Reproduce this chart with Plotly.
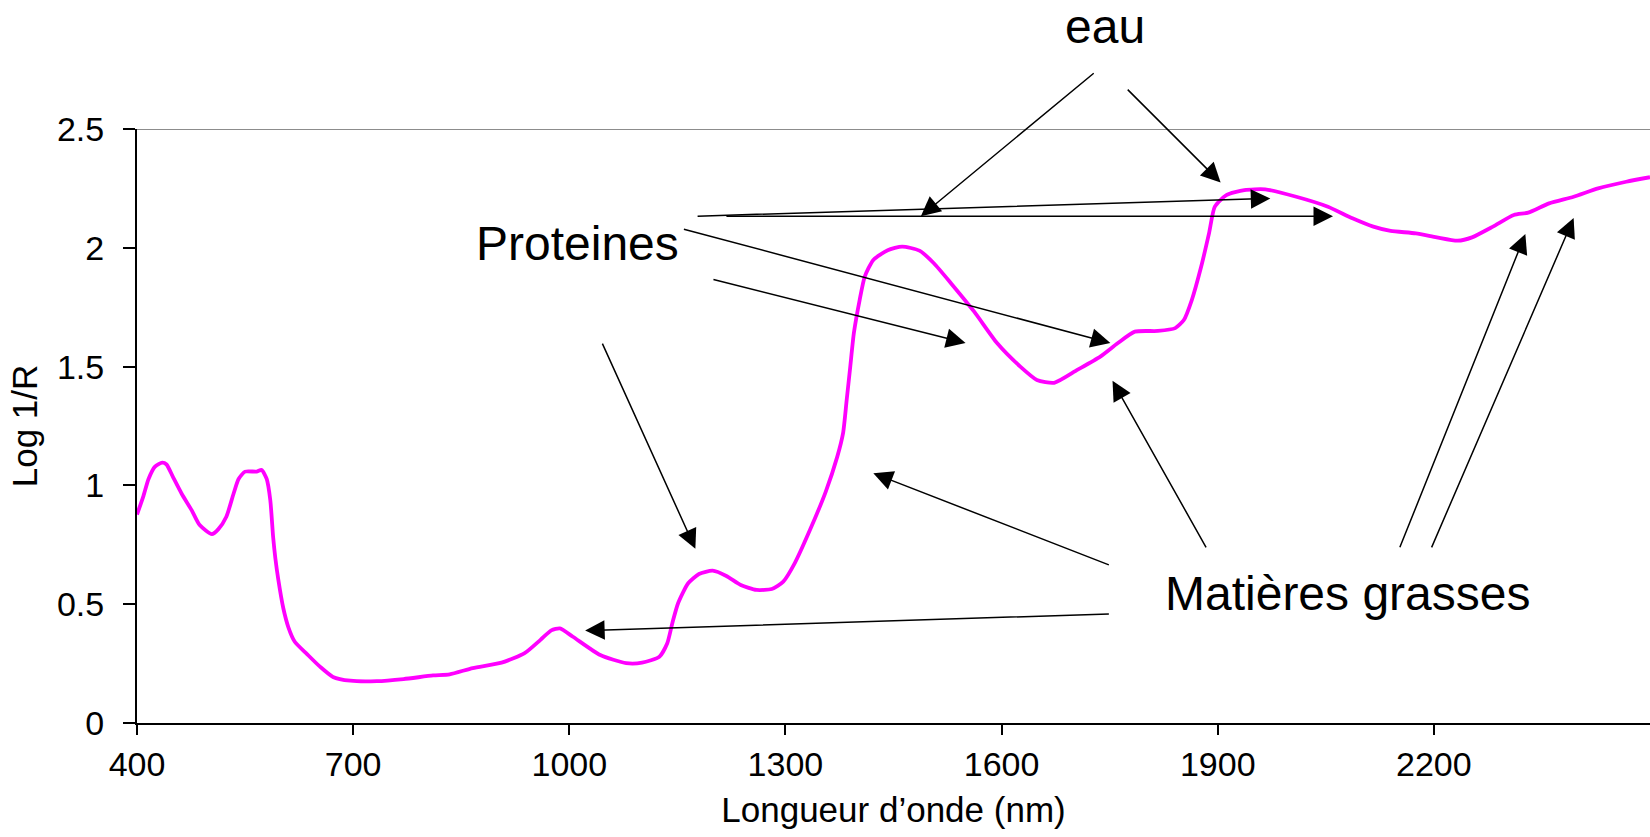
import plotly.graph_objects as go

# ---- data ----
wavelength_nm = [400, 409, 416, 425, 435, 441, 450, 462, 476, 487, 504, 513, 524, 534, 541, 550, 566,
                 573, 580, 585, 589, 592, 596, 603, 610, 619, 636, 654, 672, 696, 733, 770, 811, 834,
                 866, 906, 938, 960, 975, 987, 1005, 1043, 1079, 1101, 1125, 1136, 1143, 1151, 1165,
                 1180, 1199, 1218, 1238, 1260, 1281, 1297, 1313, 1334, 1356, 1372, 1380, 1385, 1390,
                 1395, 1403, 1410, 1422, 1442, 1462, 1486, 1506, 1530, 1562, 1594, 1626, 1649, 1673,
                 1705, 1737, 1761, 1785, 1817, 1841, 1853, 1864, 1877, 1888, 1896, 1912, 1937, 1966,
                 2009, 2053, 2087, 2116, 2140, 2175, 2204, 2233, 2253, 2282, 2311, 2331, 2360, 2394,
                 2428, 2467, 2500]
log_1_over_r = [0.877, 0.956, 1.027, 1.079, 1.096, 1.088, 1.035, 0.965, 0.895, 0.833, 0.795, 0.816,
                0.868, 0.965, 1.027, 1.058, 1.058, 1.065, 1.027, 0.938, 0.781, 0.694, 0.606, 0.484,
                0.404, 0.342, 0.290, 0.237, 0.194, 0.178, 0.176, 0.185, 0.200, 0.205, 0.231, 0.254,
                0.294, 0.350, 0.390, 0.398, 0.363, 0.286, 0.252, 0.254, 0.279, 0.336, 0.420, 0.504,
                0.588, 0.627, 0.641, 0.619, 0.581, 0.560, 0.564, 0.595, 0.673, 0.812, 0.974, 1.121,
                1.220, 1.359, 1.500, 1.641, 1.780, 1.878, 1.949, 1.990, 2.005, 1.988, 1.935, 1.850,
                1.731, 1.598, 1.500, 1.444, 1.432, 1.486, 1.542, 1.598, 1.647, 1.650, 1.662, 1.696,
                1.780, 1.920, 2.062, 2.173, 2.222, 2.243, 2.246, 2.215, 2.173, 2.124, 2.089, 2.071,
                2.061, 2.044, 2.030, 2.044, 2.089, 2.138, 2.148, 2.187, 2.215, 2.250, 2.278, 2.297]

x_ticks = [400, 700, 1000, 1300, 1600, 1900, 2200]
y_ticks = [0, 0.5, 1, 1.5, 2, 2.5]
y_tick_text = ["0", "0.5", "1", "1.5", "2", "2.5"]

# labels inside the plot: (text, wavelength, value)
labels = [("Proteines", 1012, 2.02), ("Matières grasses", 2080, 0.545)]
# label above the plot: (text, wavelength, paper y)
top_label = ("eau", 1743, 1.172)

# arrows: (tail wavelength, tail value, head wavelength, head value)
arrows = [
    (1730, 2.74, 1488, 2.133),   # eau -> 1488
    (1773, 2.672, 1904, 2.275),  # eau -> 1904
    (1176, 2.133, 1973, 2.208),  # proteines -> 1973
    (1216, 2.133, 2060, 2.133),  # proteines -> 2060
    (1157, 2.08, 1751, 1.599),   # proteines -> 1751
    (1198, 1.868, 1550, 1.599),  # proteines -> 1550
    (1045, 1.603, 1175, 0.733),  # -> 1175
    (1751, 0.663, 1422, 1.051),  # matieres -> 1422
    (1751, 0.459, 1022, 0.389),  # matieres -> 1022
    (1885, 0.733, 1754, 1.44),   # matieres -> 1754
    (2152, 0.733, 2327, 2.058),  # matieres -> 2327
    (2196, 0.733, 2394, 2.125),  # matieres -> 2394
]

FONT = "Liberation Sans, Arial, sans-serif"

fig = go.Figure()
fig.add_trace(go.Scatter(x=wavelength_nm, y=log_1_over_r, mode="lines",
                         line=dict(color="#FF00FF", width=3.8, shape="spline", smoothing=0.6),
                         showlegend=False, hoverinfo="skip"))

annotations = []
for tx, ty, hx, hy in arrows:
    annotations.append(dict(x=hx, y=hy, ax=tx, ay=ty, xref="x", yref="y", axref="x", ayref="y",
                            text="", showarrow=True, arrowhead=2, arrowsize=2.6, arrowwidth=1.5,
                            arrowcolor="black", standoff=0, startstandoff=0))
for text, lx, ly in labels:
    annotations.append(dict(x=lx, y=ly, xref="x", yref="y", text=text, showarrow=False,
                            xanchor="center", yanchor="middle",
                            font=dict(family=FONT, size=48, color="black")))
annotations.append(dict(x=top_label[1], y=top_label[2], xref="x", yref="paper", text=top_label[0],
                        showarrow=False, xanchor="center", yanchor="middle", borderpad=0,
                        font=dict(family=FONT, size=48, color="black")))

fig.update_layout(
    width=1650, height=837,
    margin=dict(l=137, r=0, t=129, b=114, pad=0),
    paper_bgcolor="white", plot_bgcolor="white",
    font=dict(family=FONT, color="black"),
    annotations=annotations,
    shapes=[dict(type="line", xref="paper", yref="y", x0=0, x1=1, y0=2.5, y1=2.5,
                 line=dict(color="#8c8c8c", width=2), layer="below")],
    xaxis=dict(range=[400, 2500], tickvals=x_ticks, ticktext=[str(v) for v in x_ticks],
               showgrid=False, zeroline=False, showline=True, linecolor="black", linewidth=2,
               ticks="outside", ticklen=10, tickwidth=1.5, tickcolor="black",
               tickfont=dict(family=FONT, size=34, color="black"),
               title=dict(text="Longueur d’onde (nm)", font=dict(family=FONT, size=35, color="black"),
                          standoff=16),
               automargin=False),
    yaxis=dict(range=[0, 2.5], tickvals=y_ticks, ticktext=y_tick_text,
               showgrid=False, zeroline=False, showline=True, linecolor="black", linewidth=2,
               ticks="outside", ticklen=12, tickwidth=1.5, tickcolor="black",
               ticklabelstandoff=12,
               tickfont=dict(family=FONT, size=34, color="black"),
               title=dict(text="Log 1/R", font=dict(family=FONT, size=35, color="black"),
                          standoff=9),
               automargin=False),
)

fig.write_html("out.html", config={"displayModeBar": False},
               post_script="document.body.style.margin='0px';document.body.style.overflow='hidden';")
